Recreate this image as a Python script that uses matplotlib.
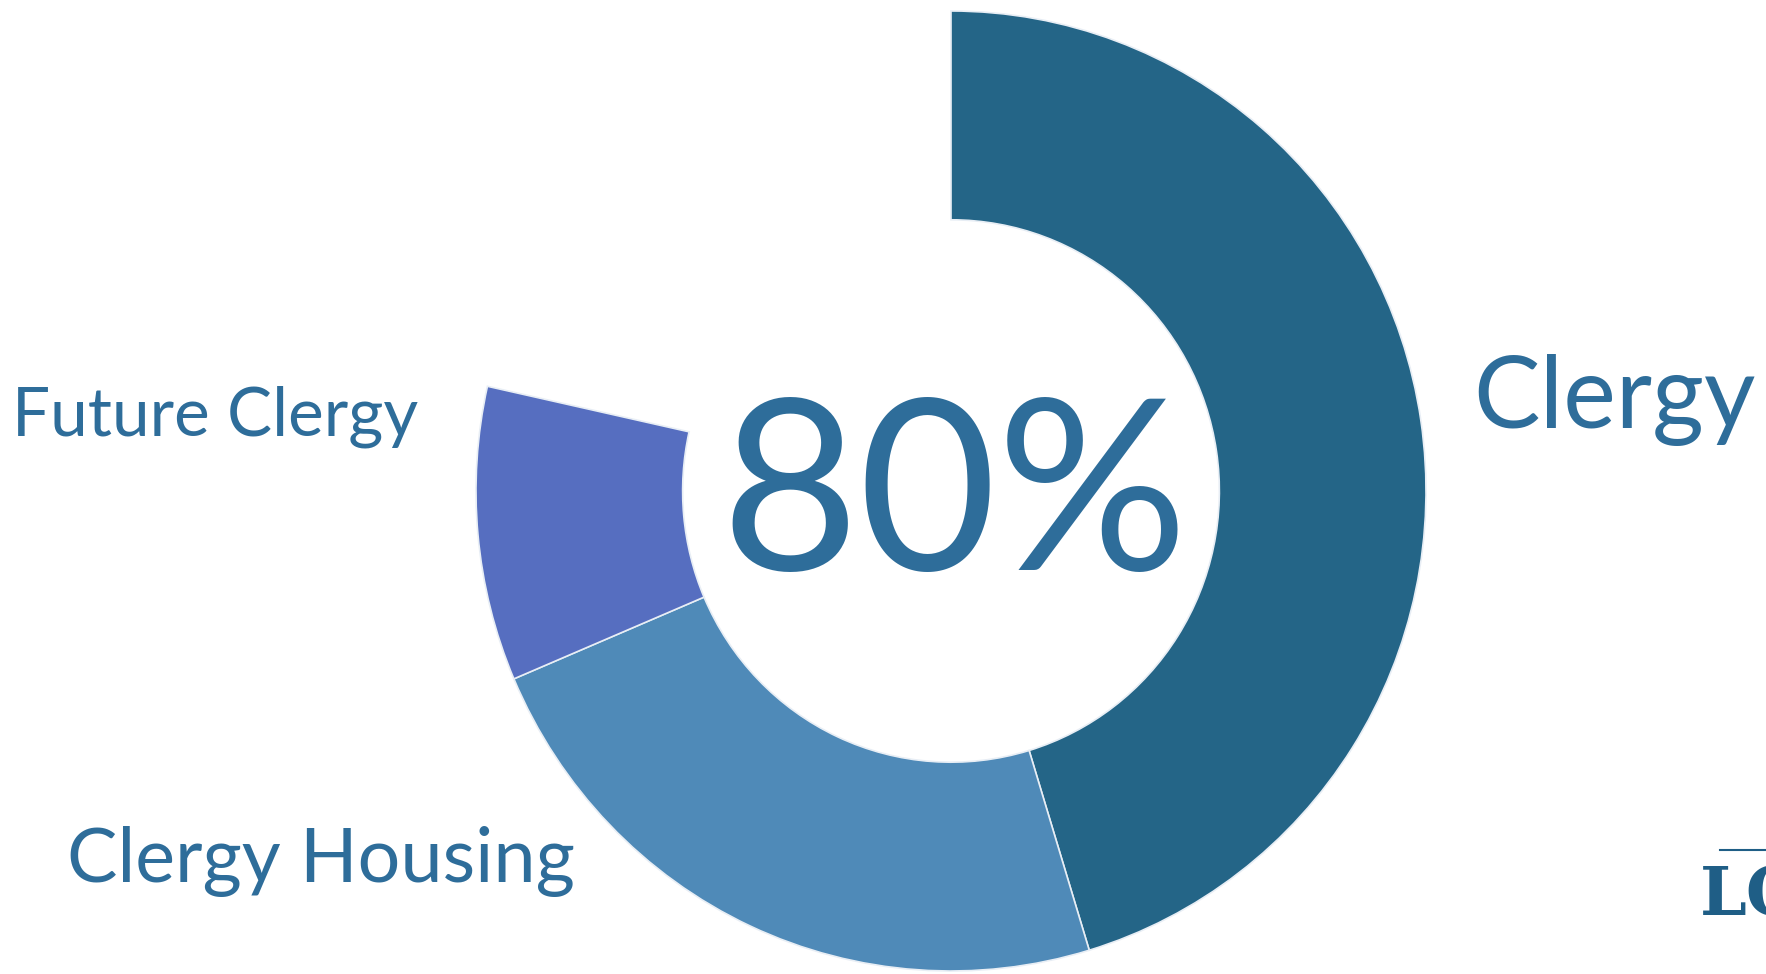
import matplotlib
matplotlib.use("Agg")
import matplotlib.pyplot as plt

# ---- data ----
categories = ["Clergy", "Clergy Housing", "Future Clergy"]
values = [45.3, 23.3, 9.9]           # percent of full circle
remainder = 100 - sum(values)        # unfilled part of the ring
center_label = "80%"
colors = ["#246587", "#4f8ab8", "#566ec0"]
text_color = "#2e6d9a"

W, H = 1766, 974
fig = plt.figure(figsize=(W / 100, H / 100), dpi=100)
ax = fig.add_axes([0, 0, 1, 1])
ax.set_xlim(0, W)
ax.set_ylim(0, H)
ax.axis("off")

# ring axes (pixel box of the ring)
cx, cy = 951, 491
rx, ry = 475, 480
axp = fig.add_axes([(cx - rx) / W, (H - cy - ry) / H, 2 * rx / W, 2 * ry / H])
wedges, _ = axp.pie(values + [remainder], colors=colors + ["none"],
                    startangle=90, counterclock=False, radius=1,
                    wedgeprops=dict(width=0.435, edgecolor="#e8eef5",
                                    linewidth=1.2))
wedges[-1].set_edgecolor("none")
axp.set_xlim(-1, 1)
axp.set_ylim(-1, 1)
axp.set_aspect("auto")
axp.axis("off")

renderer = fig.canvas.get_renderer()

def fit_text(s, left, baseline, width, family="Lato", **kw):
    t = ax.text(left, H - baseline, s, fontsize=50, family=family,
                color=text_color, ha="left", va="baseline", zorder=5, **kw)
    bb = t.get_window_extent(renderer=renderer)
    t.set_fontsize(50 * width / bb.width)
    return t

fit_text(categories[2], 12, 435, 406)
fit_text(categories[0], 1473, 428, 282)
fit_text(categories[1], 67, 882, 508)
fit_text(center_label, 720, 570, 468)

# partial logo at bottom right
ax.text(1700, H - 915, "LC", fontsize=48, family="DejaVu Serif",
        fontweight="bold", color="#1f5e86", ha="left", va="baseline")
ax.plot([1720, 1766], [H - 850, H - 850], color="#1f5e86", lw=1.5)

fig.savefig("out.png", dpi=100, facecolor="white")
